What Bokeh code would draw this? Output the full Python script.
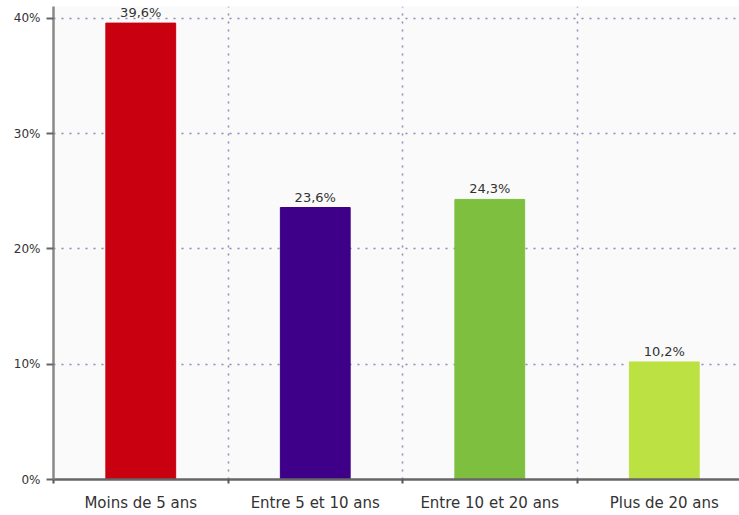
from bokeh.plotting import figure
from bokeh.models import ColumnDataSource, FixedTicker, Range1d
from bokeh.core.properties import value
from bokeh.embed import file_html
from bokeh.resources import INLINE

categories = ["Moins de 5 ans", "Entre 5 et 10 ans", "Entre 10 et 20 ans", "Plus de 20 ans"]
values = [39.6, 23.6, 24.3, 10.2]
labels = ["39,6%", "23,6%", "24,3%", "10,2%"]
colors = ["#c8000f", "#3e0088", "#7fbf3f", "#bbe242"]
y_ticks = [0, 10, 20, 30, 40]

xs = list(range(len(categories)))
src = ColumnDataSource(dict(x=xs, top=values, label=labels, color=colors))

p = figure(width=739, height=515, output_backend="svg", toolbar_location=None,
           x_range=Range1d(-0.5, 3.431), y_range=Range1d(0, 41.04),
           min_border_left=53, min_border_right=0, min_border_top=6, min_border_bottom=36)
p.outline_line_color = None
p.background_fill_color = "#fafafa"
p.border_fill_color = "white"

p.vbar(x="x", top="top", width=0.4, color="color", source=src)
p.text(x="x", y="top", text="label", source=src, text_align="center", text_baseline="bottom",
       y_offset=-3, text_font=value("DejaVu Sans"), text_font_size="13px", text_color="#333333")

# x axis
p.xaxis.ticker = FixedTicker(ticks=xs, minor_ticks=[-0.5 + i for i in range(len(categories))])
p.xaxis.major_label_overrides = {i: c for i, c in enumerate(categories)}
p.xaxis.major_tick_line_color = None
p.xaxis.major_tick_out = 3
p.xaxis.minor_tick_out = 4
p.xaxis.minor_tick_in = 0
p.xaxis.minor_tick_line_color = "#555555"
p.xaxis.minor_tick_line_width = 2
p.xaxis.axis_line_color = "#666666"
p.xaxis.axis_line_width = 2.5
p.xaxis.major_label_text_font = "DejaVu Sans"
p.xaxis.major_label_text_font_size = "15px"
p.xaxis.major_label_text_color = "#333333"
p.xaxis.major_label_standoff = 10

# y axis
p.yaxis.ticker = FixedTicker(ticks=y_ticks)
p.yaxis.major_label_overrides = {t: f"{t}%" for t in y_ticks}
p.yaxis.minor_tick_line_color = None
p.yaxis.major_tick_out = 7
p.yaxis.major_tick_in = 0
p.yaxis.major_tick_line_color = "#666666"
p.yaxis.major_tick_line_width = 2
p.yaxis.axis_line_color = "#888888"
p.yaxis.axis_line_width = 2.5
p.yaxis.major_label_text_font = "DejaVu Sans"
p.yaxis.major_label_text_font_size = "12px"
p.yaxis.major_label_text_color = "#333333"
p.yaxis.major_label_standoff = 6

# grids
p.xgrid.ticker = FixedTicker(ticks=[0.5, 1.5, 2.5])
p.xgrid.grid_line_color = "#8a8ab8"
p.xgrid.grid_line_dash = "2 6"
p.xgrid.grid_line_width = 1.5
p.ygrid.ticker = FixedTicker(ticks=[10, 20, 30, 40])
p.ygrid.grid_line_color = "#8a8ab8"
p.ygrid.grid_line_dash = "2 6"
p.ygrid.grid_line_width = 1.5

open("out.html", "w").write(file_html(p, INLINE))
